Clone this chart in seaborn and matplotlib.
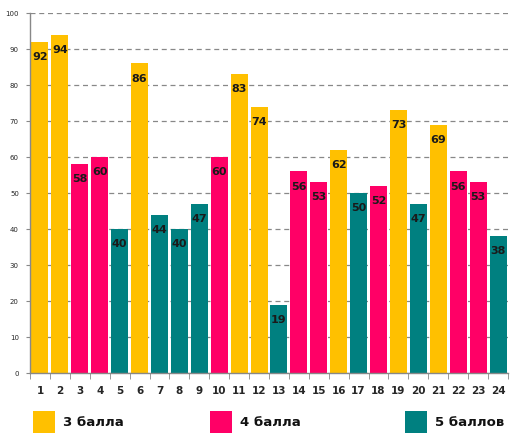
import numpy as np
import pandas as pd
import matplotlib
matplotlib.use('Agg')
import matplotlib.pyplot as plt
import seaborn as sns
from matplotlib.patches import Rectangle

# данные
nums = [str(i) for i in range(1, 25)]
values = [92, 94, 58, 60, 40, 86, 44, 40, 47, 60, 83, 74,
          19, 56, 53, 62, 50, 52, 73, 47, 69, 56, 53, 38]
groups = ['3 балла', '3 балла', '4 балла', '4 балла', '5 баллов', '3 балла',
          '5 баллов', '5 баллов', '5 баллов', '4 балла', '3 балла', '3 балла',
          '5 баллов', '4 балла', '4 балла', '3 балла', '5 баллов', '4 балла',
          '3 балла', '5 баллов', '3 балла', '4 балла', '4 балла', '5 баллов']
group_names = ['3 балла', '4 балла', '5 баллов']
colors = ['#FFC000', '#FF0066', '#008080']

df = pd.DataFrame({'num': nums, 'val': values, 'grp': groups})

sns.set_style('white')
plt.rcParams['font.family'] = ['DejaVu Sans']

fig = plt.figure(figsize=(5.13, 4.46), dpi=100)
ax = fig.add_axes([30/513, 1-373/446, 478/513, 360/446])

sns.barplot(data=df, x='num', y='val', hue='grp', hue_order=group_names,
            palette=colors, dodge=False, width=0.85, saturation=1,
            linewidth=0, legend=False, ax=ax, zorder=2)

# подписи значений
for i, v in enumerate(values):
    ax.annotate(str(v), (i, v), xytext=(0, -11), textcoords='offset points',
                ha='center', va='center', fontsize=8, fontweight='bold',
                color='#1a1a1a')

ax.set_xlim(-0.5, 23.5)
ax.set_ylim(0, 100)
ax.set_yticks(range(0, 101, 10))
ax.yaxis.grid(True, linestyle=(0, (4, 3)), color='#888888', linewidth=0.9, zorder=0)
ax.set_axisbelow(True)
ax.set_xlabel('')
ax.set_ylabel('')

for s in ['top', 'right']:
    ax.spines[s].set_visible(False)
for s in ['left', 'bottom']:
    ax.spines[s].set_color('#888888')
    ax.spines[s].set_linewidth(1)

ax.tick_params(axis='y', labelsize=5, length=3, color='#888888', pad=5, left=True)
ax.tick_params(axis='x', which='major', length=0, labelsize=7.5, pad=9)
for lab in ax.get_xticklabels():
    lab.set_fontweight('bold')
ax.set_xticks(np.arange(-0.5, 24, 1), minor=True)
ax.tick_params(axis='x', which='minor', length=4, color='#888888', bottom=True)

# легенда
leg_x = [33, 210, 405]
for x0, name, c in zip(leg_x, group_names, colors):
    fig.patches.append(Rectangle((x0/513, 1-433/446), 22/513, 22/446,
                                 transform=fig.transFigure, facecolor=c,
                                 edgecolor='none'))
    fig.text((x0+30)/513, 1-423/446, name, fontsize=9.5, fontweight='bold',
             va='center', ha='left', color='#111111')

fig.savefig('out.png', dpi=100)
